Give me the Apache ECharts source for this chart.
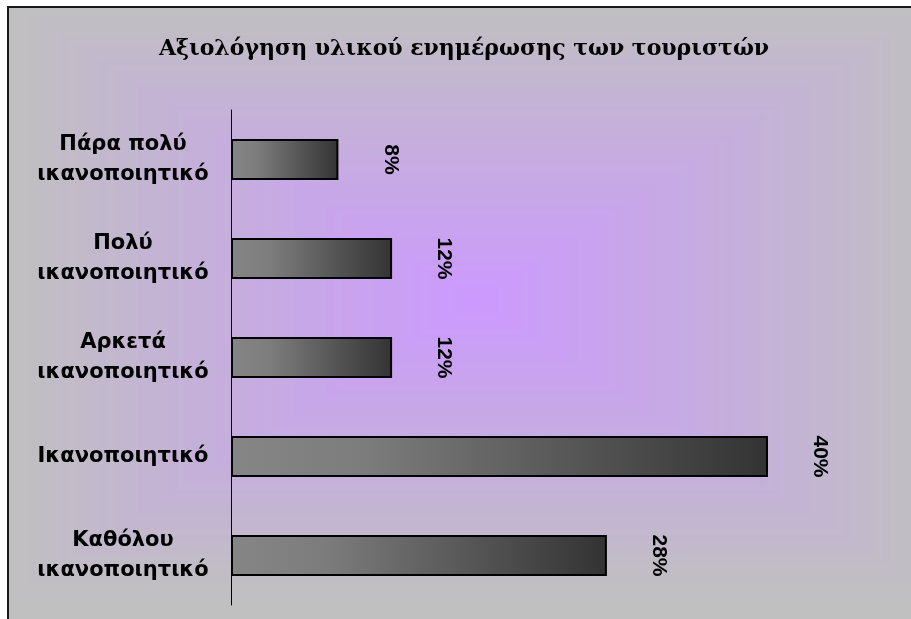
<!DOCTYPE html>
<html>
<head>
<meta charset="utf-8">
<script src="https://cdn.jsdelivr.net/npm/echarts@6/dist/echarts.min.js"></script>
<style>
  html, body { margin: 0; padding: 0; background: #ffffff; }
  #chart { width: 911px; height: 619px; }
</style>
</head>
<body>
<div id="chart"></div>
<script>
// Survey: how tourists rated the information material (percent of answers)
const categories = [
  'Πάρα πολύ\nικανοποιητικό',
  'Πολύ\nικανοποιητικό',
  'Αρκετά\nικανοποιητικό',
  'Ικανοποιητικό',
  'Καθόλου\nικανοποιητικό'
];
const shares = [8, 12, 12, 40, 28];
const titleText = 'Αξιολόγηση υλικού ενημέρωσης των τουριστών';

// Chart-area backdrop: a rectangular "from centre" fill, violet in the middle fading to grey,
// kept inside the framed area, with the frame drawn on top of it.
function backdrop() {
  const frame = { x0: 8, y0: 7, x1: 940, y1: 650 };
  const gray = [192, 192, 192];
  const violet = [204, 153, 255];
  const cx = 475, cy = 300, hw = 470, hh = 300;
  const rings = 60;
  const els = [{
    type: 'rect',
    z: -100,
    silent: true,
    shape: { x: frame.x0, y: frame.y0, width: frame.x1 - frame.x0, height: frame.y1 - frame.y0 },
    style: { fill: '#c0c0c0' }
  }];
  for (let i = rings; i >= 1; i--) {
    const t = i / rings;
    const c = gray.map((g, k) => Math.round(violet[k] + (g - violet[k]) * t));
    const x0 = Math.max(frame.x0, cx - hw * t);
    const y0 = Math.max(frame.y0, cy - hh * t);
    const x1 = Math.min(frame.x1, cx + hw * t);
    const y1 = Math.min(frame.y1, cy + hh * t);
    els.push({
      type: 'rect',
      z: -99,
      silent: true,
      shape: { x: x0, y: y0, width: x1 - x0, height: y1 - y0 },
      style: { fill: 'rgb(' + c.join(',') + ')' }
    });
  }
  els.push({
    type: 'rect',
    z: -98,
    silent: true,
    shape: { x: frame.x0, y: frame.y0, width: frame.x1 - frame.x0, height: frame.y1 - frame.y0 },
    style: { fill: 'none', stroke: '#1a1a1a', lineWidth: 2 }
  });
  return els;
}

const chart = echarts.init(document.getElementById('chart'), null, { renderer: 'canvas' });
chart.setOption({
  animation: false,
  backgroundColor: '#ffffff',
  graphic: backdrop(),
  title: {
    text: titleText,
    left: 459,
    top: 33,
    textAlign: 'center',
    textStyle: {
      fontFamily: 'DejaVu Serif',
      fontWeight: 'bold',
      fontSize: 22,
      color: '#000000'
    }
  },
  grid: { left: 231, top: 110, bottom: 14, right: 143, containLabel: false },
  xAxis: {
    type: 'value',
    min: 0,
    max: 40,
    show: false
  },
  yAxis: {
    type: 'category',
    data: categories,
    inverse: true,
    axisLine: { show: true, lineStyle: { color: '#000000', width: 1 } },
    axisTick: { show: false },
    axisLabel: {
      margin: 108,
      align: 'center',
      fontFamily: 'DejaVu Sans',
      fontWeight: 'bold',
      fontSize: 21,
      lineHeight: 30,
      color: '#000000'
    }
  },
  series: [{
    type: 'bar',
    data: shares,
    barWidth: 41,
    itemStyle: {
      borderColor: '#000000',
      borderWidth: 2,
      color: {
        type: 'linear', x: 0, y: 0, x2: 1, y2: 0,
        colorStops: [
          { offset: 0, color: '#868686' },
          { offset: 0.25, color: '#7c7c7c' },
          { offset: 1, color: '#333333' }
        ]
      }
    },
    label: {
      show: true,
      position: 'right',
      distance: 52,
      rotate: -90,
      align: 'center',
      verticalAlign: 'middle',
      formatter: '{c}%',
      fontFamily: 'Liberation Sans',
      fontWeight: 'bold',
      fontSize: 21,
      color: '#000000'
    }
  }]
});
</script>
</body>
</html>
